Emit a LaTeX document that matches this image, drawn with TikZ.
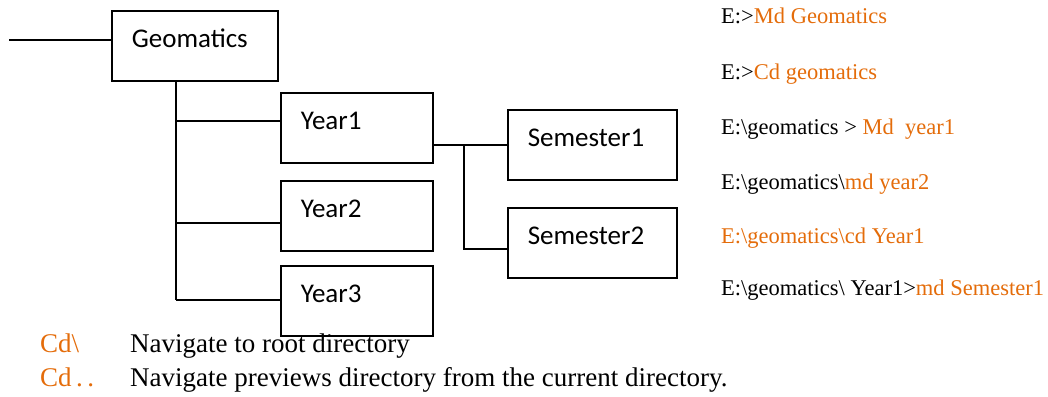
\documentclass[tikz,border=0pt]{standalone}
\usepackage{fontspec}
\setmainfont{Liberation Serif}
\newfontfamily\boxfont{Carlito}
\usepackage{xcolor}
\usepackage{tikz}
\usetikzlibrary{positioning}
\definecolor{cmdorange}{RGB}{228,108,10}

\begin{document}
\begin{tikzpicture}[x=1pt, y=-1pt,
  dirbox/.style={draw, line width=1.6pt, anchor=north west, inner xsep=20pt, inner ysep=10pt,
    text height=27pt, text depth=23pt, align=left, font=\boxfont\fontsize{27}{32}\selectfont},
  link/.style={line width=1.6pt},
  cmd/.style={anchor=base west, inner sep=0pt, font=\fontsize{22.5}{27}\selectfont},
  note/.style={anchor=base west, inner sep=0pt, font=\fontsize{27}{32}\selectfont}]
  \useasboundingbox (0,0) rectangle (1048,396);

  % Directory boxes
  \node[dirbox, text width=126pt] (geo) at (111,10) {Geomatics};
  \node[dirbox, text width=112pt] (y1) at (280,92) {Year1};
  \node[dirbox, text width=112pt] (y2) at (280,180) {Year2};
  \node[dirbox, text width=112pt] (y3) at (280,265) {Year3};
  \node[dirbox, text width=129pt] (s1) at (507,109) {Semester1};
  \node[dirbox, text width=129pt] (s2) at (507,207) {Semester2};

  % Tree lines
  \coordinate (root) at (9,40);
  \coordinate (t0) at (176,80);
  \coordinate (b1) at (176,121);
  \coordinate (b2) at (176,223);
  \coordinate (b3) at (176,300);
  \coordinate (j1) at (464,144);
  \coordinate (j2) at (464,249);
  \draw[link] (root) -- (root -| geo.west);
  \draw[link] (t0) -- (b3);
  \draw[link] (b1) -- (b1 -| y1.west);
  \draw[link] (b2) -- (b2 -| y2.west);
  \draw[link] (b3) -- (b3 -| y3.west);
  \draw[link] (y1.east |- s1.west) -- (s1.west);
  \draw[link] (j1) -- (j2) -- (j2 -| s2.west);

  % Commands
  \node[cmd] (c1) at (721,24) {E:>\textcolor{cmdorange}{Md Geomatics}};
  \node[cmd] (c2) at (721,79) {E:>\textcolor{cmdorange}{Cd geomatics}};
  \node[cmd] (c3) at (721,134) {E:\textbackslash geomatics > \textcolor{cmdorange}{Md\ \ year1}};
  \node[cmd] (c4) at (721,189) {E:\textbackslash geomatics\textbackslash\textcolor{cmdorange}{md year2}};
  \node[cmd, text=cmdorange] (c5) at (721,243) {E:\textbackslash geomatics\textbackslash cd Year1};
  \node[cmd] (c6) at (721,295) {E:\textbackslash geomatics\textbackslash{} Year1>\textcolor{cmdorange}{md Semester1}};

  % Notes
  \node[note, text=cmdorange] (k1) at (40,352) {Cd\textbackslash};
  \node[note] (n1) at (130,352) {Navigate to root directory};
  \node[note, text=cmdorange] (k2) at (40,386) {Cd\,.\,.};
  \node[note] (n2) at (130,386) {Navigate previews directory from the current directory.};
\end{tikzpicture}
\end{document}
